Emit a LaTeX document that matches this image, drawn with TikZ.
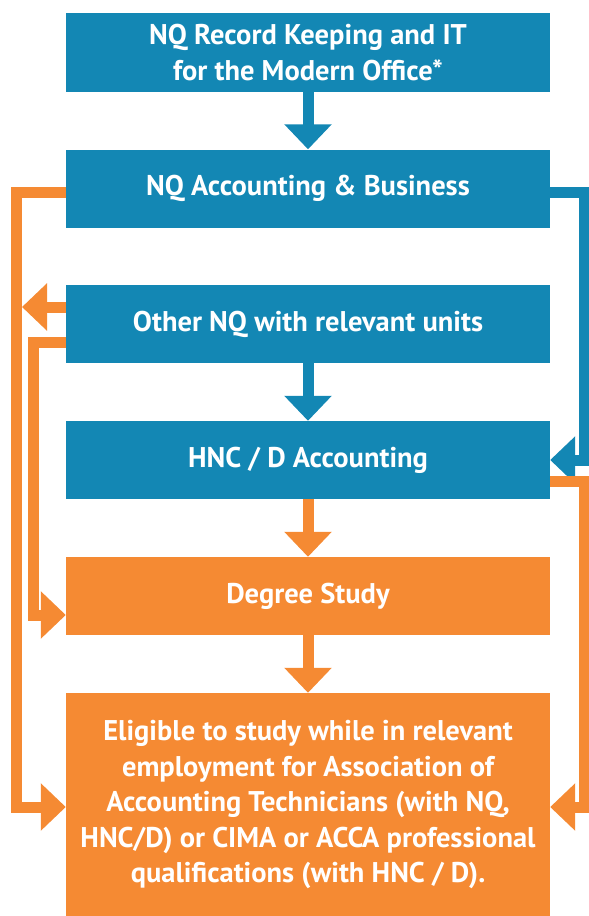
\documentclass[tikz,border=0pt]{standalone}
\usepackage{fontspec}
\setmainfont{PT Sans}
\usetikzlibrary{arrows.meta}

\definecolor{pathblue}{RGB}{19,135,180}
\definecolor{pathorange}{RGB}{245,138,51}

\tikzset{
	stagebox/.style={rectangle, inner sep=0pt, minimum width=484pt, minimum height=78pt,
		text=white, font=\bfseries\fontsize{28.5}{35.5}\selectfont, align=center},
	bluebox/.style={stagebox, fill=pathblue},
	orangebox/.style={stagebox, fill=pathorange},
	flowarrow/.style={line width=11pt, line join=miter,
		-{Triangle[width=46pt,length=25pt]}},
}

\begin{document}
\begin{tikzpicture}[x=1pt,y=-1pt]
	\useasboundingbox (0,0) rectangle (589,916);
	
	\node[bluebox, minimum height=79pt] (recordkeeping) at (308,52.5) {NQ Record Keeping and IT\\for the Modern Office*};
	\node[bluebox] (accbusiness) at (308,188.5) {NQ Accounting \& Business};
	\node[bluebox] (othernq) at (308,324) {Other NQ with relevant units};
	\node[bluebox] (hnc) at (308,460) {HNC / D Accounting};
	\node[orangebox] (degree) at (308,596) {Degree Study};
	\node[orangebox, minimum height=223pt] (eligible) at (308,804.5) {Eligible to study while in relevant\\employment for Association of\\Accounting Technicians (with NQ,\\HNC/D) or CIMA or ACCA professional\\qualifications (with HNC / D).};
	
	% straight down
	\draw[flowarrow, pathblue] (recordkeeping.south) -- (accbusiness.north);
	\draw[flowarrow, pathblue] (othernq.south) -- (hnc.north);
	\draw[flowarrow, pathorange] (hnc.south) -- (degree.north);
	\draw[flowarrow, pathorange] (degree.south) -- (eligible.north);
	
	% rails at the sides
	\coordinate (outerrail) at (16.5,807);
	\coordinate (innerrail) at (33,615);
	\coordinate (railhit) at (22,307);
	\coordinate (bluerail) at (584,460);
	\coordinate (rightrail) at (584,807);
	
	\draw[flowarrow, pathorange] ([yshift=-4pt]accbusiness.west) -| (outerrail) -- (outerrail -| eligible.west);
	\draw[flowarrow, pathorange] ([yshift=17pt]othernq.west) -- (railhit);
	\draw[flowarrow, pathorange] ([yshift=-18pt]othernq.west) -| (innerrail) -- (innerrail -| degree.west);
	\draw[flowarrow, pathblue] ([yshift=-4pt]accbusiness.east) -| (bluerail) -- (bluerail -| hnc.east);
	\draw[flowarrow, pathorange] ([yshift=-21pt]hnc.east) -| (rightrail) -- (rightrail -| eligible.east);
\end{tikzpicture}
\end{document}
